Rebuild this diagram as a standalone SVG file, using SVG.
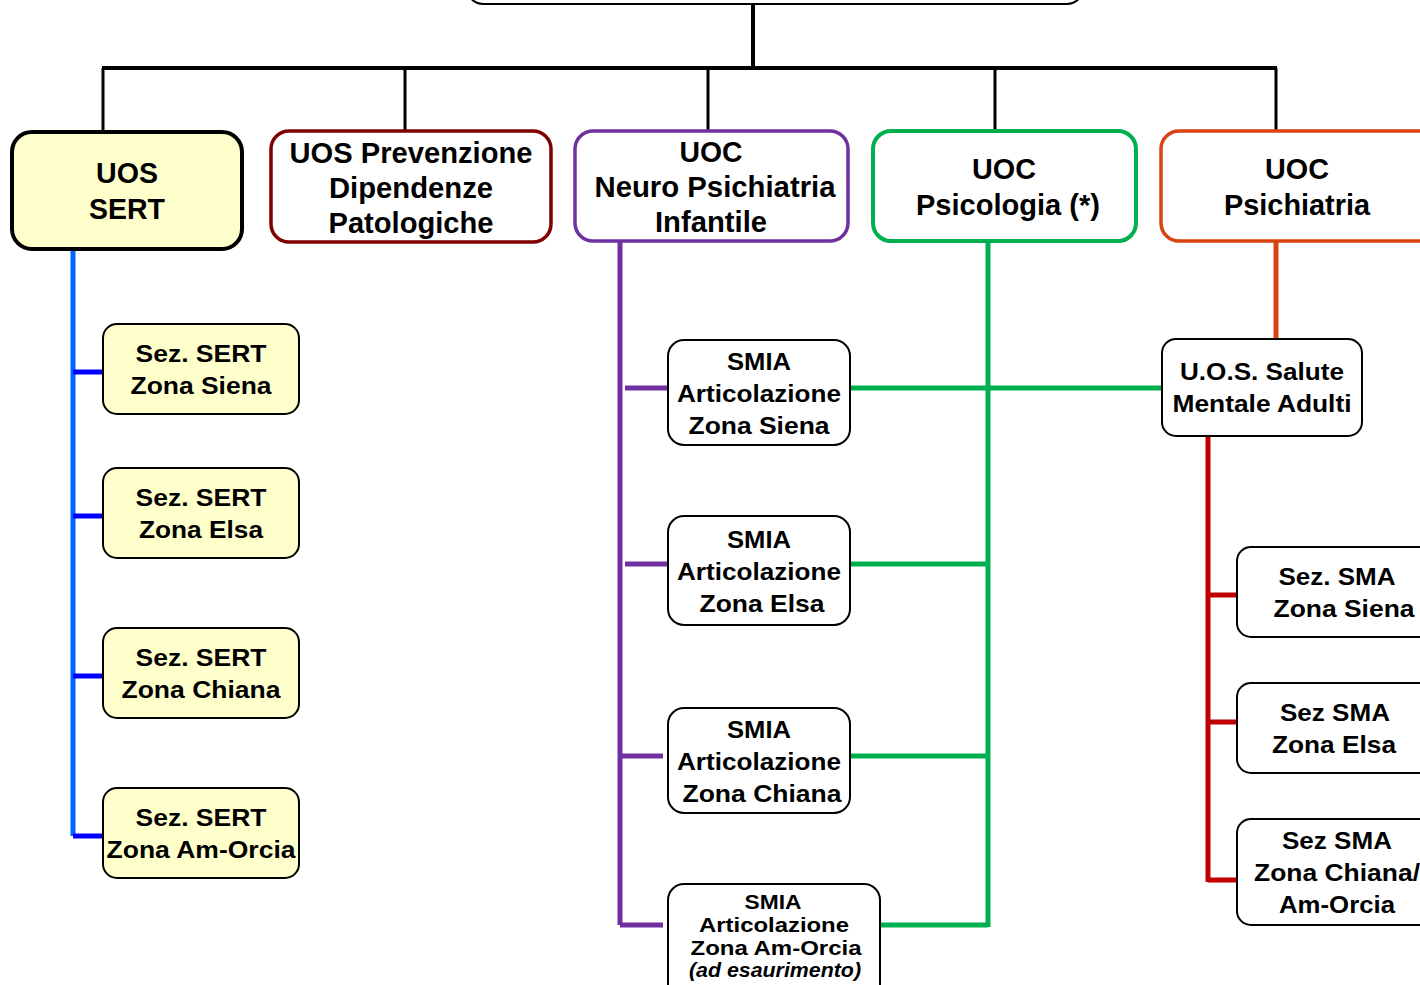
<svg xmlns="http://www.w3.org/2000/svg" width="1420" height="985" viewBox="0 0 1420 985">
<style>
text{font-family:"Liberation Sans",Arial,sans-serif;font-weight:bold;fill:#000;text-anchor:middle}
.h{font-size:29px}
.s{font-size:24px}
.t{font-size:20px}
.box{fill:#fff;stroke-width:2}
.hb{fill:#fff;stroke-width:3.5}
.y{fill:#FFFFCC}
</style>
<rect width="1420" height="985" fill="#fff"/>
<g id="connectors" fill="none" stroke-linecap="butt">
<path d="M753 4V68M102 68H1277" stroke="#000" stroke-width="4"/>
<path d="M103 68V132M405 68V131M708 68V131M995 68V131M1276 68V131" stroke="#000" stroke-width="3"/>
<path d="M73 249V836" stroke="#0066FF" stroke-width="5"/>
<path d="M73 372H103M73 516H103M73 676H103M73 836H103" stroke="#0000FF" stroke-width="5"/>
<path d="M620 241V925" stroke="#7030A0" stroke-width="5"/>
<path d="M625 388H668M625 564H668M620 756H663M620 925H663" stroke="#7030A0" stroke-width="5"/>
<path d="M988 241V927M850 388H1162M850 564H988M850 756H988M880 925H988" stroke="#00B050" stroke-width="5"/>
<path d="M1276 241V339" stroke="#D9430F" stroke-width="5"/>
<path d="M1208 436V882M1208 595H1237M1208 722H1237M1208 880H1237" stroke="#C00000" stroke-width="5"/>
</g>
<g id="top"><rect x="467" y="-60" width="616" height="64" rx="16" class="box" stroke="#000"/></g>
<g id="uos-sert">
<rect x="12" y="132" width="230" height="117" rx="20" class="hb y" stroke="#000" style="stroke-width:4"/>
<text class="h" x="127" y="183" textLength="62" lengthAdjust="spacingAndGlyphs">UOS</text>
<text class="h" x="127" y="219" textLength="76" lengthAdjust="spacingAndGlyphs">SERT</text>
</g>
<g id="uos-prev">
<rect x="271" y="131" width="280" height="111" rx="18" class="hb" stroke="#800000"/>
<text class="h" x="411" y="163" textLength="243" lengthAdjust="spacingAndGlyphs">UOS Prevenzione</text>
<text class="h" x="411" y="198" textLength="164" lengthAdjust="spacingAndGlyphs">Dipendenze</text>
<text class="h" x="411" y="233" textLength="165" lengthAdjust="spacingAndGlyphs">Patologiche</text>
</g>
<g id="uoc-npi">
<rect x="575" y="131" width="273" height="110" rx="18" class="hb" stroke="#7030A0"/>
<text class="h" x="711" y="162" textLength="63" lengthAdjust="spacingAndGlyphs">UOC</text>
<text class="h" x="715" y="197" textLength="241" lengthAdjust="spacingAndGlyphs">Neuro Psichiatria</text>
<text class="h" x="711" y="232" textLength="112" lengthAdjust="spacingAndGlyphs">Infantile</text>
</g>
<g id="uoc-psicologia">
<rect x="873" y="131" width="263" height="110" rx="18" class="hb" stroke="#00B050" style="stroke-width:4"/>
<text class="h" x="1004" y="179" textLength="64" lengthAdjust="spacingAndGlyphs">UOC</text>
<text class="h" x="1008" y="215" textLength="184" lengthAdjust="spacingAndGlyphs">Psicologia (*)</text>
</g>
<g id="uoc-psichiatria">
<rect x="1161" y="131" width="290" height="110" rx="18" class="hb" stroke="#D9430F"/>
<text class="h" x="1297" y="179" textLength="64" lengthAdjust="spacingAndGlyphs">UOC</text>
<text class="h" x="1297" y="215" textLength="146" lengthAdjust="spacingAndGlyphs">Psichiatria</text>
</g>
<g id="sert-siena">
<rect x="103" y="324" width="196" height="90" rx="14" class="box y" stroke="#000"/>
<text class="s" x="201" y="362" textLength="131" lengthAdjust="spacingAndGlyphs">Sez. SERT</text>
<text class="s" x="201" y="394" textLength="141" lengthAdjust="spacingAndGlyphs">Zona Siena</text>
</g>
<g id="sert-elsa">
<rect x="103" y="468" width="196" height="90" rx="14" class="box y" stroke="#000"/>
<text class="s" x="201" y="506" textLength="131" lengthAdjust="spacingAndGlyphs">Sez. SERT</text>
<text class="s" x="201" y="538" textLength="124" lengthAdjust="spacingAndGlyphs">Zona Elsa</text>
</g>
<g id="sert-chiana">
<rect x="103" y="628" width="196" height="90" rx="14" class="box y" stroke="#000"/>
<text class="s" x="201" y="666" textLength="131" lengthAdjust="spacingAndGlyphs">Sez. SERT</text>
<text class="s" x="201" y="698" textLength="159" lengthAdjust="spacingAndGlyphs">Zona Chiana</text>
</g>
<g id="sert-amorcia">
<rect x="103" y="788" width="196" height="90" rx="14" class="box y" stroke="#000"/>
<text class="s" x="201" y="826" textLength="131" lengthAdjust="spacingAndGlyphs">Sez. SERT</text>
<text class="s" x="201" y="858" textLength="189" lengthAdjust="spacingAndGlyphs">Zona Am-Orcia</text>
</g>
<g id="smia-siena">
<rect x="668" y="340" width="182" height="105" rx="16" class="box" stroke="#000"/>
<text class="s" x="759" y="370" textLength="64" lengthAdjust="spacingAndGlyphs">SMIA</text>
<text class="s" x="759" y="402" textLength="164" lengthAdjust="spacingAndGlyphs">Articolazione</text>
<text class="s" x="759" y="434" textLength="141" lengthAdjust="spacingAndGlyphs">Zona Siena</text>
</g>
<g id="smia-elsa">
<rect x="668" y="516" width="182" height="109" rx="16" class="box" stroke="#000"/>
<text class="s" x="759" y="548" textLength="64" lengthAdjust="spacingAndGlyphs">SMIA</text>
<text class="s" x="759" y="580" textLength="164" lengthAdjust="spacingAndGlyphs">Articolazione</text>
<text class="s" x="762" y="612" textLength="125" lengthAdjust="spacingAndGlyphs">Zona Elsa</text>
</g>
<g id="smia-chiana">
<rect x="668" y="708" width="182" height="105" rx="16" class="box" stroke="#000"/>
<text class="s" x="759" y="738" textLength="64" lengthAdjust="spacingAndGlyphs">SMIA</text>
<text class="s" x="759" y="770" textLength="164" lengthAdjust="spacingAndGlyphs">Articolazione</text>
<text class="s" x="762" y="802" textLength="159" lengthAdjust="spacingAndGlyphs">Zona Chiana</text>
</g>
<g id="smia-amorcia">
<rect x="668" y="884" width="212" height="120" rx="16" class="box" stroke="#000"/>
<text class="t" x="773" y="909" textLength="57" lengthAdjust="spacingAndGlyphs">SMIA</text>
<text class="t" x="774" y="932" textLength="150" lengthAdjust="spacingAndGlyphs">Articolazione</text>
<text class="t" x="776" y="955" textLength="171" lengthAdjust="spacingAndGlyphs">Zona Am-Orcia</text>
<text class="t" x="775" y="977" font-style="italic" textLength="172" lengthAdjust="spacingAndGlyphs">(ad esaurimento)</text>
</g>
<g id="uos-sma">
<rect x="1162" y="339" width="200" height="97" rx="14" class="box" stroke="#000"/>
<text class="s" x="1262" y="380" textLength="164" lengthAdjust="spacingAndGlyphs">U.O.S. Salute</text>
<text class="s" x="1262" y="412" textLength="179" lengthAdjust="spacingAndGlyphs">Mentale Adulti</text>
</g>
<g id="sma-siena">
<rect x="1237" y="547" width="220" height="90" rx="14" class="box" stroke="#000"/>
<text class="s" x="1337" y="585" textLength="117" lengthAdjust="spacingAndGlyphs">Sez. SMA</text>
<text class="s" x="1344" y="617" textLength="141" lengthAdjust="spacingAndGlyphs">Zona Siena</text>
</g>
<g id="sma-elsa">
<rect x="1237" y="683" width="220" height="90" rx="14" class="box" stroke="#000"/>
<text class="s" x="1335" y="721" textLength="110" lengthAdjust="spacingAndGlyphs">Sez SMA</text>
<text class="s" x="1334" y="753" textLength="124" lengthAdjust="spacingAndGlyphs">Zona Elsa</text>
</g>
<g id="sma-chiana">
<rect x="1237" y="819" width="220" height="106" rx="14" class="box" stroke="#000"/>
<text class="s" x="1337" y="849" textLength="110" lengthAdjust="spacingAndGlyphs">Sez SMA</text>
<text class="s" x="1337" y="881" textLength="166" lengthAdjust="spacingAndGlyphs">Zona Chiana/</text>
<text class="s" x="1337" y="913" textLength="116" lengthAdjust="spacingAndGlyphs">Am-Orcia</text>
</g>
</svg>
